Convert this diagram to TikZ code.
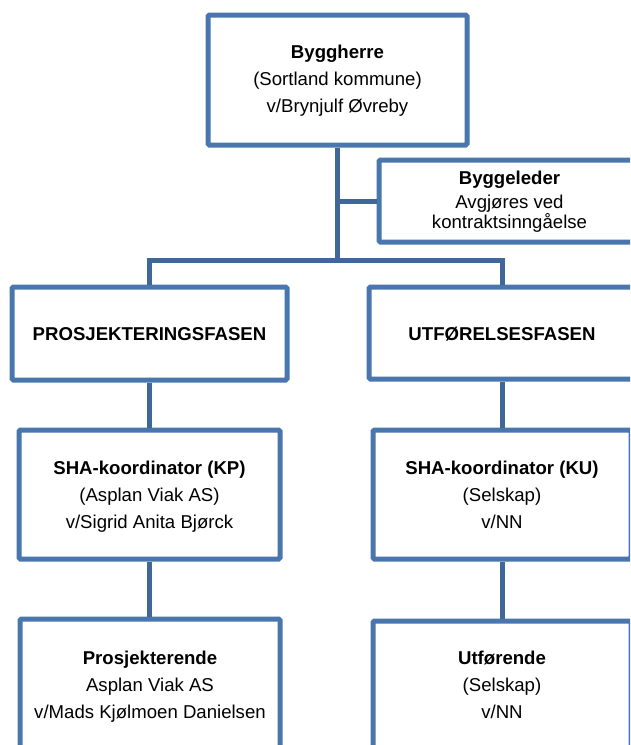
\documentclass[tikz,border=0pt]{standalone}
\usepackage{fontspec}
\setmainfont{Liberation Sans}
\definecolor{boxblue}{HTML}{4876AD}
\definecolor{linkblue}{HTML}{3F6898}
\begin{document}
\begin{tikzpicture}[x=1pt,y=-1pt,
  orgbox/.style={draw=boxblue, line width=5pt, rounded corners=1.5pt, inner sep=0pt, fill=white},
  link/.style={draw=linkblue, line width=5pt},
  txt/.style={align=center, font=\fontsize{18.6}{26.8}\selectfont, inner sep=0pt, anchor=base},
  tighttxt/.style={align=center, font=\fontsize{18.6}{16}\selectfont, inner sep=0pt, anchor=base}]
\useasboundingbox (0,0) rectangle (630,745);
\clip (0,0) rectangle (630,745);
% boxes
\node[orgbox, minimum width=259pt, minimum height=130pt] (bh) at (337.5,80) {};
\node[orgbox, minimum width=261pt, minimum height=82pt] (bl) at (509.5,201) {};
\node[orgbox, minimum width=275pt, minimum height=93pt] (pf) at (149.5,333.5) {};
\node[orgbox, minimum width=266pt, minimum height=92pt] (uf) at (502,333) {};
\node[orgbox, minimum width=261pt, minimum height=129pt] (kp) at (149.5,494.5) {};
\node[orgbox, minimum width=258pt, minimum height=129pt] (ku) at (502,494.5) {};
\node[orgbox, minimum width=260pt, minimum height=151pt] (pr) at (150,694.5) {};
\node[orgbox, minimum width=258pt, minimum height=149pt] (ut) at (502,695.5) {};
% connectors
\coordinate (jn) at (337.5,260);
\draw[link] (bh.south) -- (jn);
\draw[link] (pf.north) |- (jn) -| (uf.north);
\draw[link] (bh.south |- bl.west) -- (bl.west);
\draw[link] (pf.south) -- (kp.north);
\draw[link] (kp.south) -- (kp.south |- pr.north);
\draw[link] (uf.south) -- (ku.north);
\draw[link] (ku.south) -- (ut.north);
% texts (anchor = baseline of the last line)
\node[txt] (bhT) at (337.5,112.4) {\textbf{Byggherre}\\(Sortland kommune)\\v/Brynjulf Øvreby};
\node[tighttxt] (blT) at (509.5,228.5) {\textbf{Byggeleder}\\[5.5pt]Avgjøres ved\\kontraktsinngåelse};
\node[txt] (pfT) at (149.5,340) {\textbf{PROSJEKTERINGSFASEN}};
\node[txt] (ufT) at (502,340) {\textbf{UTFØRELSESFASEN}};
\node[txt] (kpT) at (149.5,528) {\textbf{SHA-koordinator (KP)}\\(Asplan Viak AS)\\v/Sigrid Anita Bjørck};
\node[txt] (kuT) at (502,528) {\textbf{SHA-koordinator (KU)}\\(Selskap)\\v/NN};
\node[txt] (prT) at (150,718) {\textbf{Prosjekterende}\\Asplan Viak AS\\v/Mads Kjølmoen Danielsen};
\node[txt] (utT) at (502,718) {\textbf{Utførende}\\(Selskap)\\v/NN};
\end{tikzpicture}
\end{document}
